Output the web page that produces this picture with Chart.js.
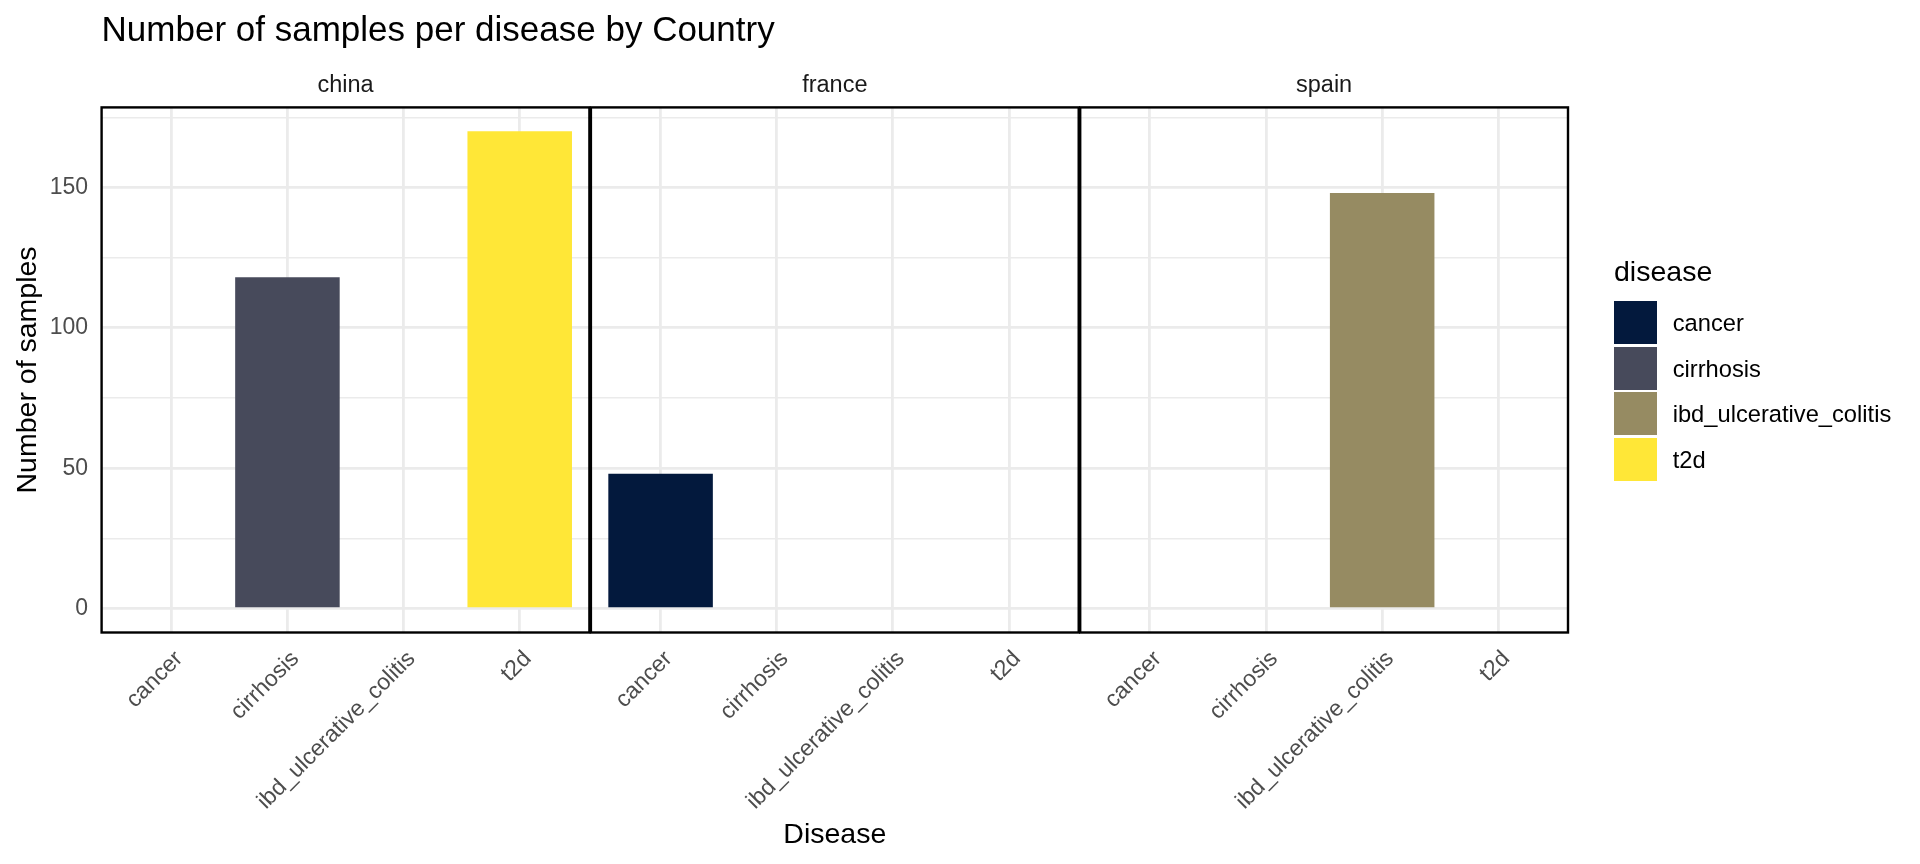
<!DOCTYPE html>
<html><head><meta charset="utf-8">
<script src="https://cdn.jsdelivr.net/npm/chart.js@4.4.1/dist/chart.umd.min.js"></script>
<style>
html,body{margin:0;padding:0;background:#fff;}
#wrap{position:relative;width:1920px;height:864px;overflow:hidden;font-family:'Liberation Sans',Arial,sans-serif;background:#fff;}
canvas{position:absolute;left:0;top:0;}
.t{position:absolute;white-space:nowrap;line-height:1;}
.key{position:absolute;}
</style></head><body><div id="wrap"></div>
<script>
// ---- data ----
const countries = ['china', 'france', 'spain'];
const diseases = ['cancer', 'cirrhosis', 'ibd_ulcerative_colitis', 't2d'];
const chinaCounts = [null, 118, null, 170];
const franceCounts = [48, null, null, null];
const spainCounts = [null, null, 148, null];
const yTickLabels = [0, 50, 100, 150];
const countsByCountry = [chinaCounts, franceCounts, spainCounts];

// ---- styles ----
const diseaseColors = ['#03193D', '#474A5B', '#968B62', '#FFE737'];
const FONT = "'Liberation Sans', Arial, sans-serif";
Chart.defaults.font.family = FONT;

const W = 1920, H = 864;
const PL = 101.6, PR = 1568, PT = 107.4, PB = 632.5, GAP = 1.5;
const pw = (PR - PL - 2 * GAP) / 3;

const allVals = countsByCountry.flat().filter(v => v !== null);
const maxVal = Math.max(0, ...allVals);
const expand = 0.05 * maxVal;
const yMin = 0 - expand, yMax = maxVal + expand;
const minorStep = (yTickLabels[1] - yTickLabels[0]) / 2;

const wrap = document.getElementById('wrap');

const borderPlugin = {
  id: 'panelBorder',
  afterDraw(chart) {
    const {ctx, chartArea: a} = chart;
    ctx.save();
    ctx.strokeStyle = '#000';
    ctx.lineWidth = 2.4;
    ctx.strokeRect(a.left, a.top, a.right - a.left, a.bottom - a.top);
    ctx.restore();
  }
};

function addText(txt, x, baseline, size, color, center) {
  const d = document.createElement('div');
  d.className = 't';
  d.textContent = txt;
  d.style.fontSize = size + 'px';
  d.style.color = color;
  d.style.left = x + 'px';
  d.style.top = (baseline - 0.8465 * size) + 'px';
  if (center) d.style.transform = 'translateX(-50%)';
  wrap.appendChild(d);
  return d;
}

countries.forEach((country, i) => {
  const left = PL + i * (pw + GAP);
  const right = left + pw;
  const cv = document.createElement('canvas');
  cv.width = W; cv.height = H;
  wrap.appendChild(cv);
  const counts = countsByCountry[i];
  new Chart(cv, {
    type: 'bar',
    data: {
      datasets: [{
        label: country,
        data: diseases.map((d, j) => ({x: j, y: counts[j]})),
        backgroundColor: diseaseColors,
        borderWidth: 0,
        barPercentage: 0.9,
        categoryPercentage: 1.0
      }]
    },
    options: {
      responsive: false,
      animation: false,
      devicePixelRatio: 1,
      layout: {padding: {left: i === 0 ? 0 : left, right: W - right, top: PT, bottom: 0}},
      plugins: {legend: {display: false}, tooltip: {enabled: false}},
      scales: {
        x: {
          type: 'linear',
          min: -0.6,
          max: diseases.length - 1 + 0.6,
          offset: false,
          afterBuildTicks: s => { s.ticks = diseases.map((d, j) => ({value: j})); },
          afterFit: s => { s.height = H - PB; s.paddingLeft = 0; s.paddingRight = 0; },
          ticks: {
            autoSkip: false, minRotation: 45, maxRotation: 45,
            padding: 13, labelOffset: 8,
            color: '#4D4D4D', font: {size: 23},
            callback: v => diseases[v]
          },
          grid: {color: '#EBEBEB', lineWidth: 2.8, drawTicks: false, offset: false},
          border: {display: false}
        },
        y: {
          type: 'linear',
          min: yMin,
          max: yMax,
          afterBuildTicks: s => {
            const t = [];
            for (let v = 0; v <= yMax; v += minorStep) t.push({value: v});
            s.ticks = t;
          },
          afterFit: s => { s.width = i === 0 ? left : 0; s.paddingTop = 0; s.paddingBottom = 0; },
          ticks: {
            display: i === 0,
            padding: 13.6,
            color: '#4D4D4D', font: {size: 23},
            callback: v => yTickLabels.includes(v) ? String(v) : ''
          },
          grid: {
            color: '#EBEBEB',
            lineWidth: c => (c.tick && yTickLabels.includes(c.tick.value)) ? 2.8 : 1.4,
            drawTicks: false
          },
          border: {display: false},
          title: {
            display: i === 0, text: 'Number of samples', color: '#000',
            font: {size: 28.5}, padding: {top: 11, bottom: 0}
          }
        }
      }
    },
    plugins: [borderPlugin]
  });

  // strip label
  addText(country, (left + right) / 2, 92.5, 23.5, '#1A1A1A', true);
});

// titles
addText('Number of samples per disease by Country', PL, 40.4, 35, '#000', false);
addText('Disease', (PL + PR) / 2, 843, 28.5, '#000', true);

// legend
addText('disease', 1614, 281, 28.5, '#000', false);
const keyPitch = 45.5, keySize = 43, keyTop0 = 301;
diseases.forEach((d, j) => {
  const k = document.createElement('div');
  k.className = 'key';
  k.style.left = '1614px';
  k.style.top = (keyTop0 + j * keyPitch) + 'px';
  k.style.width = keySize + 'px';
  k.style.height = keySize + 'px';
  k.style.background = diseaseColors[j];
  wrap.appendChild(k);
  const cy = keyTop0 + j * keyPitch + keySize / 2;
  addText(d, 1672.7, cy + 10, 23.7, '#000', false);
});
</script></body></html>
